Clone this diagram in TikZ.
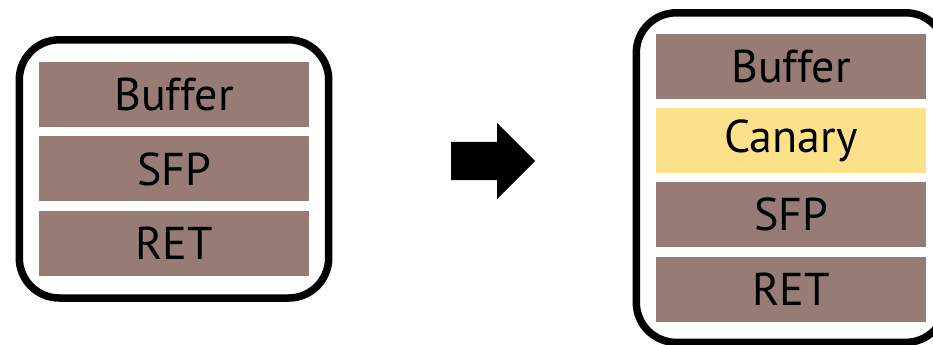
\documentclass[tikz,border=0pt]{standalone}
\usepackage{fontspec}
\setmainfont{PT Sans}
\usepackage{tikz}
\usetikzlibrary{positioning,fit,shapes.arrows,backgrounds}
\definecolor{slotbrown}{RGB}{150,124,116}
\definecolor{canaryyellow}{RGB}{252,225,138}

\begin{document}
\begin{tikzpicture}[
  x=1bp, y=-1bp,
  node distance=9bp,
  slot/.style={fill=slotbrown, minimum width=270bp, minimum height=65bp, inner sep=0pt,
               font=\fontsize{46bp}{50bp}\selectfont},
  canary/.style={slot, fill=canaryyellow},
  frame/.style={draw, line width=7.5bp, rounded corners=40bp, inner xsep=19.5bp, inner ysep=22bp},
  bigarrow/.style={single arrow, fill=black, inner sep=0pt, text height=19bp, text depth=19bp,
                   single arrow head extend=19bp, minimum height=84bp}
]
\useasboundingbox (0,0) rectangle (933,344);
% --- stack before ---
\node[slot] (lbuf) at (174,94.5) {Buffer};
\node[slot, below=of lbuf] (lsfp) {SFP};
\node[slot, below=of lsfp] (lret) {RET};
\node[frame, fit=(lbuf)(lret)] (lframe) {};
% --- stack after ---
\node[slot] (rbuf) at (791,66) {Buffer};
\node[canary, below=of rbuf] (rcan) {Canary};
\node[slot, below=of rcan] (rsfp) {SFP};
\node[slot, below=of rsfp] (rret) {RET};
\node[frame, inner ysep=20.5bp, fit=(rbuf)(rret)] (rframe) {};
% --- transition ---
\node[bigarrow, anchor=tail] (step) at (451,161) {};
\end{tikzpicture}
\end{document}
